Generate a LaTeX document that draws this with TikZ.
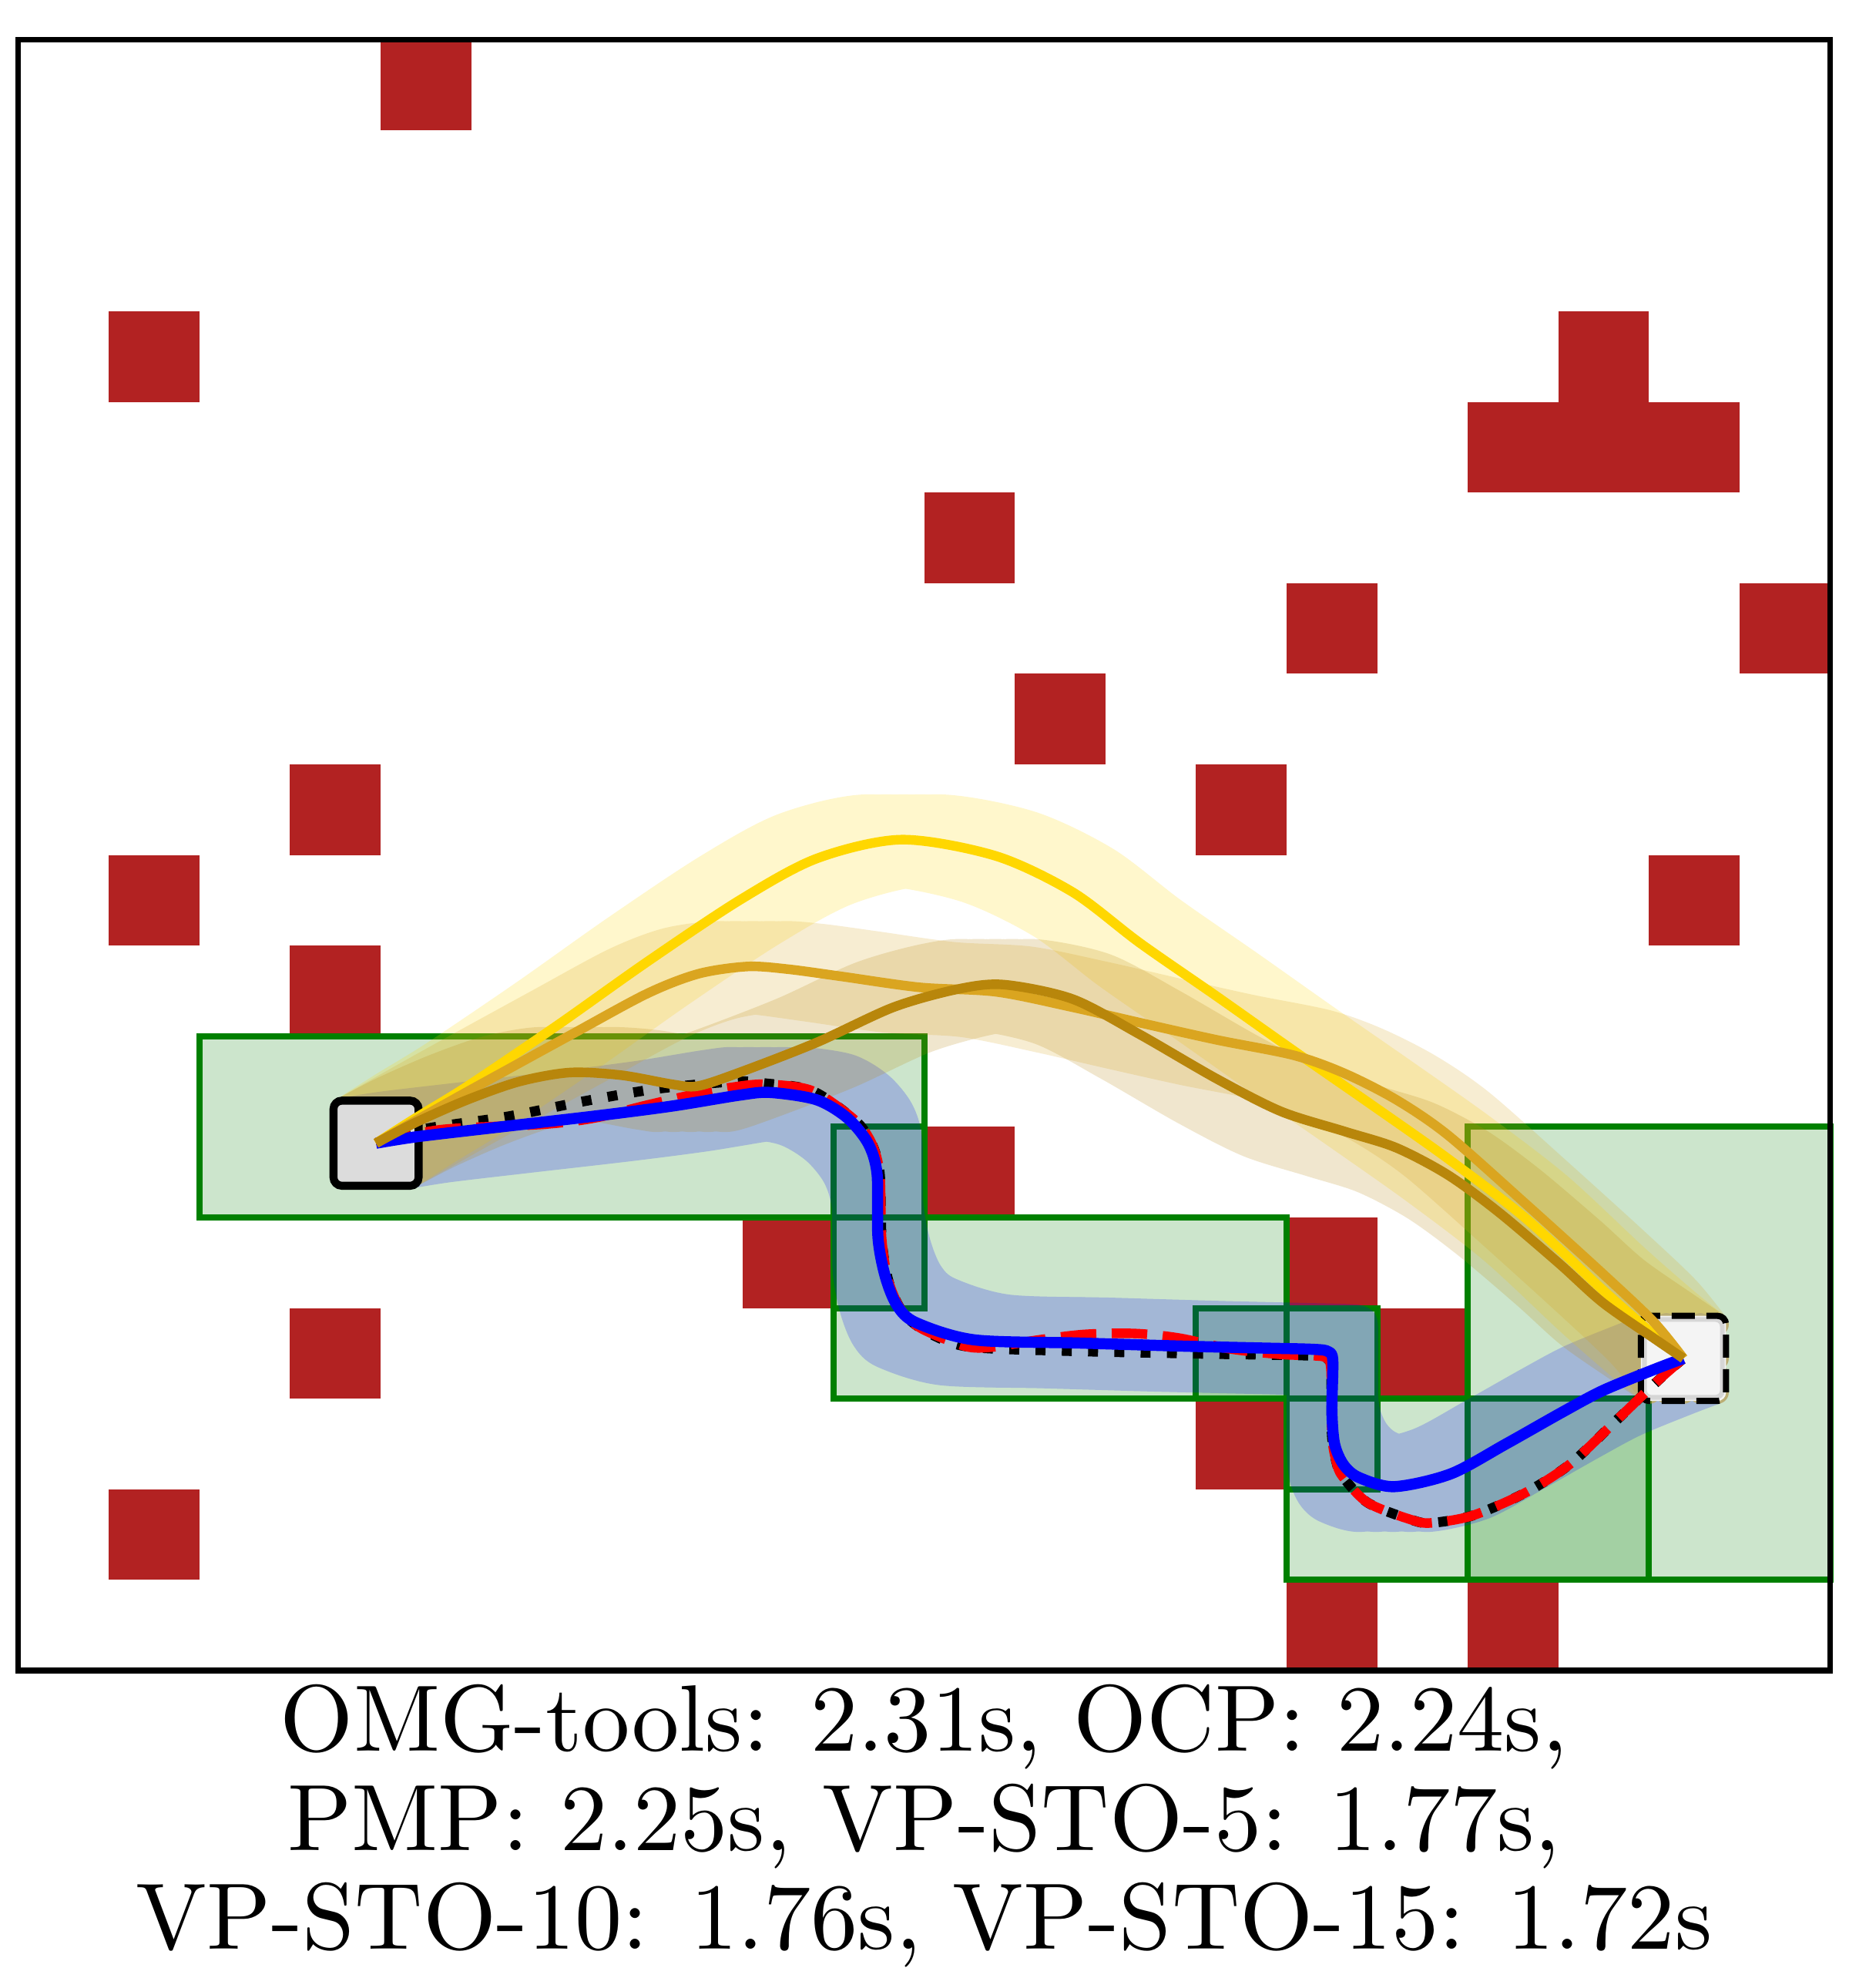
\documentclass[tikz,border=0pt]{standalone}
\usepackage{graphicx}
\definecolor{firebrick}{RGB}{178,34,34}
\definecolor{mplgreen}{RGB}{0,128,0}
\definecolor{gold}{RGB}{255,215,0}
\definecolor{goldenrod}{RGB}{218,165,32}
\definecolor{dgoldenrod}{RGB}{184,134,11}
\definecolor{mplblue}{RGB}{0,0,255}
\definecolor{mplred}{RGB}{255,0,0}
\definecolor{gains}{RGB}{220,220,220}
\definecolor{wsmoke}{RGB}{244,244,244}
\definecolor{ringgray}{RGB}{214,214,214}

\def\pblack{plot[smooth,tension=0.5] coordinates {(3.95,5.82) (4.50,5.98) (5.38,6.11) (6.23,6.28) (7.05,6.42) (7.90,6.50) (8.25,6.48) (8.76,6.40) (9.23,6.08) (9.42,5.82) (9.51,5.48) (9.53,4.78) (9.60,4.32) (9.74,3.99) (9.96,3.78) (10.45,3.58) (11.5,3.53) (12.9,3.50) (14.30,3.475) (14.44,3.45) (14.49,3.32) (14.50,2.6) (14.55,2.30) (14.62,2.14) (14.90,1.85) (15.39,1.66) (15.60,1.63) (16.05,1.71) (16.63,1.96) (17.13,2.28) (17.66,2.78) (18.11,3.21) (18.38,3.445)}}
\def\pred{plot[smooth,tension=0.5] coordinates {(3.95,5.82) (4.67,5.97) (5.81,6.03) (6.37,6.10) (6.94,6.24) (7.51,6.37) (7.90,6.44) (8.25,6.47) (8.76,6.40) (9.23,6.08) (9.42,5.82) (9.51,5.48) (9.53,4.78) (9.60,4.32) (9.74,3.99) (9.96,3.78) (10.45,3.58) (10.75,3.57) (11.27,3.65) (11.77,3.71) (12.32,3.72) (12.81,3.67) (13.38,3.55) (13.93,3.49) (14.30,3.475) (14.44,3.45) (14.49,3.32) (14.50,2.6) (14.55,2.30) (14.62,2.14) (14.90,1.85) (15.39,1.66) (15.60,1.63) (16.05,1.71) (16.63,1.96) (17.13,2.28) (17.66,2.78) (18.11,3.21) (18.38,3.445)}}
\def\pblue{plot[smooth,tension=0.5] coordinates {(3.95,5.82) (4.39,5.89) (5.24,5.99) (6.37,6.12) (7.22,6.23) (7.96,6.35) (8.30,6.38) (8.81,6.30) (9.15,6.10) (9.38,5.82) (9.48,5.48) (9.49,4.78) (9.57,4.35) (9.70,4.03) (9.91,3.84) (10.55,3.65) (11.7,3.615) (12.87,3.58) (13.7,3.56) (14.30,3.545) (14.46,3.52) (14.51,3.42) (14.50,2.87) (14.53,2.50) (14.63,2.27) (14.80,2.13) (15.19,2.03) (15.81,2.17) (16.42,2.50) (17.04,2.85) (17.49,3.09) (18.05,3.32) (18.38,3.445)}}
\def\pgold{plot[smooth,tension=0.5] coordinates {(3.95,5.82) (4.39,6.10) (4.96,6.45) (5.95,7.12) (6.94,7.82) (7.96,8.50) (8.81,8.96) (9.75,9.17) (10.79,8.99) (11.64,8.59) (12.38,8.03) (13.23,7.44) (14.08,6.84) (14.93,6.25) (15.78,5.65) (16.64,4.99) (17.49,4.20) (18.05,3.71) (18.38,3.445)}}
\def\pgoldenrod{plot[smooth,tension=0.5] coordinates {(3.95,5.82) (4.39,6.07) (4.96,6.39) (6.09,7.01) (6.94,7.47) (7.51,7.69) (8.05,7.77) (8.50,7.74) (9.09,7.66) (9.95,7.54) (10.80,7.49) (11.64,7.32) (12.38,7.15) (13.23,6.96) (14.08,6.79) (14.64,6.59) (15.21,6.30) (15.78,5.91) (16.64,5.15) (17.49,4.38) (18.05,3.85) (18.38,3.445)}}
\def\pdgold{plot[smooth,tension=0.5] coordinates {(3.95,5.82) (4.39,6.05) (4.96,6.30) (5.53,6.50) (6.09,6.60) (6.66,6.57) (7.22,6.47) (7.50,6.45) (7.96,6.60) (8.81,6.93) (9.66,7.32) (10.37,7.52) (10.88,7.57) (11.64,7.41) (12.38,7.02) (13.23,6.53) (13.94,6.17) (14.64,5.95) (15.21,5.77) (15.78,5.47) (16.34,5.06) (17.0,4.50) (17.49,4.06) (18.05,3.67) (18.38,3.445)}}

\newcommand\sweeppath[2]{%
  \begin{scope}[transparency group, opacity=0.2]
    \foreach \sx in {-0.375,-0.1875,0,0.1875,0.375}{%
      \foreach \sy in {-0.375,-0.1875,0,0.1875,0.375}{%
        \draw[tubestroke, draw=#1, shift={(\sx,\sy)}] #2;
      }}
  \end{scope}}

\begin{document}
\begin{tikzpicture}[x=0.8cm,y=0.8cm,
  obst/.style={fill=firebrick},
  region/.style={draw=mplgreen, fill=mplgreen, fill opacity=0.2, line width=1.55pt},
  tubestroke/.style={line width=0.2cm, line cap=round, line join=round},
  traj/.style={line join=round},
  frame/.style={draw=black, line width=1.4pt},
  caption/.style={anchor=base, inner sep=0pt}]

\useasboundingbox (-0.2007,-3.503) rectangle (20.207,18.436);
\fill[white] (-0.2007,-3.503) rectangle (20.207,18.436);

% obstacles
\foreach \ox/\oy in {4/17,1/14,17/14,10/12,14/11,19/11,11/10,3/9,13/9,1/8,18/8,3/7,10/5,8/4,14/4,3/3,15/3,13/2,1/1,14/0,16/0}
  \fill[obst] (\ox,\oy) rectangle ++(1,1);
\fill[obst] (16,13) rectangle (19,14);

% convex free regions
\draw[region] (2,5) rectangle (10,7);
\draw[region] (9,4) rectangle (10,6);
\draw[region] (9,3) rectangle (14,5);
\draw[region] (13,3) rectangle (15,4);
\draw[region] (14,2) rectangle (15,4);
\draw[region] (14,1) rectangle (18,3);
\draw[region] (16,1) rectangle (20,6);

% swept tubes
\sweeppath{mplblue}{\pblue}
\sweeppath{gold}{\pgold}
\sweeppath{goldenrod}{\pgoldenrod}
\sweeppath{dgoldenrod}{\pdgold}

% start and goal
\draw[fill=gains, line width=2pt, rounded corners=0.075cm] (3.48,5.35) rectangle (4.42,6.29);
\fill[wsmoke, rounded corners=0.075cm] (17.91,2.975) rectangle (18.85,3.915);
\draw[ringgray, line width=1.2pt, rounded corners=0.06cm] (17.95,3.015) rectangle (18.81,3.875);
\draw[line width=1.55pt, dash pattern=on 5.8pt off 2.9pt, rounded corners=0.075cm] (17.91,2.975) rectangle (18.85,3.915);

% trajectories
\draw[traj, black, line width=2.5pt, dash pattern=on 2.5pt off 4.1pt] \pblack;
\draw[traj, mplred, line width=2.4pt, dash pattern=on 8.9pt off 3.9pt] \pred;
\draw[traj, mplblue, line width=2.8pt] \pblue;
\draw[traj, gold, line width=2.4pt] \pgold;
\draw[traj, goldenrod, line width=2.4pt] \pgoldenrod;
\draw[traj, dgoldenrod, line width=2.4pt] \pdgold;

% frame
\draw[frame] (0,0) rectangle (20,18);

% caption
\node[caption] (line1) at (10,-0.89) {\scalebox{2.37}{OMG-tools: 2.31s, OCP: 2.24s,}};
\node[caption] (line2) at (10,-1.985) {\scalebox{2.37}{PMP: 2.25s, VP-STO-5: 1.77s,}};
\node[caption] (line3) at (10,-3.076) {\scalebox{2.37}{VP-STO-10: 1.76s, VP-STO-15: 1.72s}};
\end{tikzpicture}
\end{document}
